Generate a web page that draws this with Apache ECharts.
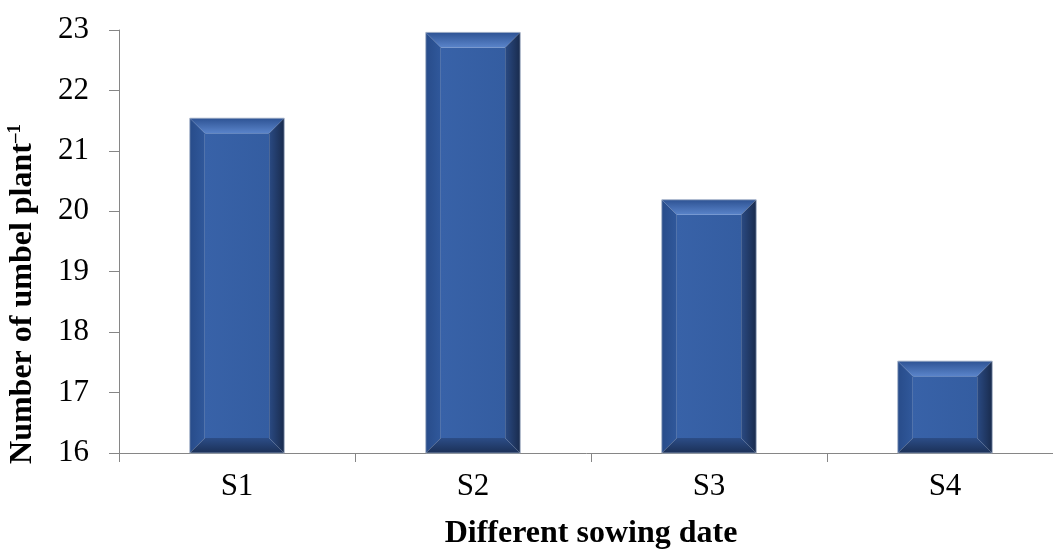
<!DOCTYPE html>
<html>
<head>
<meta charset="utf-8">
<script src="https://cdn.jsdelivr.net/npm/echarts@6/dist/echarts.min.js"></script>
<style>
html,body{margin:0;padding:0;background:#fff;}
#chart{width:1053px;height:549px;}
</style>
</head>
<body>
<div id="chart"></div>
<script>
const categories = ['S1', 'S2', 'S3', 'S4'];
const values = [21.54, 22.96, 20.19, 17.52];
const yTicks = { min: 16, max: 23, interval: 1 };
const xTitle = 'Different sowing date';
const yTitle = 'Number of umbel plant';
const ySup = '–1';

const FONT = '"Liberation Serif", "Times New Roman", serif';
const AXIS_COLOR = '#868686';

const chart = echarts.init(document.getElementById('chart'), null, { renderer: 'canvas' });

function renderBevelBar(params, api) {
  const cat = api.value(0);
  const val = api.value(1);
  const topPt = api.coord([cat, val]);
  const basePt = api.coord([cat, yTicks.min]);
  const bw = api.size([1, 0])[0] * 0.40;
  const l = topPt[0] - bw / 2, r = topPt[0] + bw / 2;
  const t = topPt[1], btm = basePt[1];
  const b = Math.min(15, (btm - t) / 2.5);
  const lg = (x1, y1, x2, y2, c1, c2) => new echarts.graphic.LinearGradient(x1, y1, x2, y2, [
    { offset: 0, color: c1 }, { offset: 1, color: c2 }]);
  return {
    type: 'group',
    children: [
      { type: 'rect', shape: { x: l + b, y: t + b, width: bw - 2 * b, height: btm - t - 2 * b },
        style: { fill: lg(0, 0, 1, 0, '#3862a8', '#345da1') } },
      { type: 'polygon', shape: { points: [[l, t], [r, t], [r - b, t + b], [l + b, t + b]] },
        style: { fill: lg(0, 0, 0, 1, '#2e5394', '#5a84ca') } },
      { type: 'polygon', shape: { points: [[l, t], [l + b, t + b], [l + b, btm - b], [l, btm]] },
        style: { fill: lg(0, 0, 1, 0, '#284c8a', '#30589b') } },
      { type: 'polygon', shape: { points: [[r, t], [r, btm], [r - b, btm - b], [r - b, t + b]] },
        style: { fill: lg(1, 0, 0, 0, '#192b4d', '#2a4a83') } },
      { type: 'polygon', shape: { points: [[l, btm], [l + b, btm - b], [r - b, btm - b], [r, btm]] },
        style: { fill: lg(0, 1, 0, 0, '#1b3057', '#2c4d87') } },
      { type: 'rect', shape: { x: l, y: t, width: bw, height: btm - t },
        style: { fill: null, stroke: '#9aa9c2', lineWidth: 0.8 } }
    ]
  };
}

const option = {
  animation: false,
  backgroundColor: '#ffffff',
  grid: { left: 119, top: 30, width: 944, height: 423, containLabel: false, outerBoundsMode: 'none' },
  xAxis: {
    type: 'category',
    data: categories,
    boundaryGap: true,
    axisLine: { show: true, lineStyle: { color: AXIS_COLOR, width: 1 } },
    axisTick: { show: true, length: 9, inside: false, lineStyle: { color: AXIS_COLOR } },
    axisLabel: { margin: 18, color: '#000', fontFamily: FONT, fontSize: 31 },
    splitLine: { show: false },
    name: xTitle,
    nameLocation: 'middle',
    nameGap: 65,
    nameTextStyle: { color: '#000', fontFamily: FONT, fontSize: 32, fontWeight: 'bold', verticalAlign: 'top' }
  },
  yAxis: {
    type: 'value',
    min: yTicks.min,
    max: yTicks.max,
    interval: yTicks.interval,
    axisLine: { show: true, lineStyle: { color: AXIS_COLOR, width: 1 } },
    axisTick: { show: true, length: 10, inside: false, lineStyle: { color: AXIS_COLOR } },
    axisLabel: { margin: 30, color: '#000', fontFamily: FONT, fontSize: 31 },
    splitLine: { show: false }
  },
  graphic: [{
    type: 'text',
    x: 23,
    y: 294,
    rotation: Math.PI / 2,
    style: {
      text: '{m|' + yTitle + '}{s|' + ySup + '}',
      rich: {
        m: { fontFamily: FONT, fontSize: 32, fontWeight: 'bold', fill: '#000', lineHeight: 34 },
        s: { fontFamily: FONT, fontSize: 19, fontWeight: 'bold', fill: '#000', verticalAlign: 'top', lineHeight: 34 }
      },
      align: 'center',
      verticalAlign: 'middle'
    }
  }],
  series: [{
    type: 'custom',
    renderItem: renderBevelBar,
    data: categories.map((c, i) => [i, values[i]]),
    encode: { x: 0, y: 1 },
    clip: false
  }]
};
chart.setOption(option);
</script>
</body>
</html>
